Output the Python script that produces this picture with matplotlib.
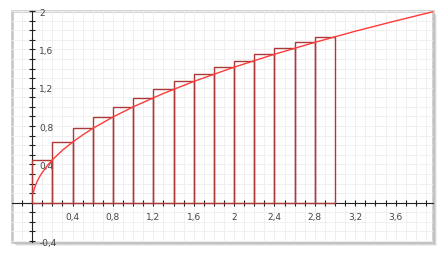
import numpy as np
import matplotlib
matplotlib.use("Agg")
import matplotlib.pyplot as plt
from matplotlib.patches import Rectangle

# right-endpoint rectangles under sqrt(x), width 0.2 from 0 to 3
bar_left = [0.0, 0.2, 0.4, 0.6, 0.8, 1.0, 1.2, 1.4, 1.6, 1.8, 2.0, 2.2, 2.4, 2.6, 2.8]
bar_height = [0.447, 0.632, 0.775, 0.894, 1.0, 1.095, 1.183, 1.265, 1.342,
              1.414, 1.483, 1.549, 1.612, 1.673, 1.732]
bar_width = 0.2

# curve samples (y = sqrt(x))
curve_x = [0.01, 0.02, 0.03, 0.05, 0.07, 0.1, 0.15, 0.2, 0.3, 0.4, 0.5, 0.6, 0.8, 1.0,
           1.3, 1.6, 2.0, 2.4, 2.8, 3.2, 3.6, 4.0]
curve_y = [0.1, 0.141, 0.173, 0.224, 0.265, 0.316, 0.387, 0.447, 0.548, 0.632, 0.707,
           0.775, 0.894, 1.0, 1.14, 1.265, 1.414, 1.549, 1.673, 1.789, 1.897, 2.0]

xticks = [0.4, 0.8, 1.2, 1.6, 2.0, 2.4, 2.8, 3.2, 3.6]
xlabels = ["0,4", "0,8", "1,2", "1,6", "2", "2,4", "2,8", "3,2", "3,6"]
yticks = [-0.4, 0.4, 0.8, 1.2, 1.6, 2.0]
ylabels = ["-0,4", "0,4", "0,8", "1,2", "1,6", "2"]

fig = plt.figure(figsize=(4.44, 2.55), dpi=100)
W, H = 444, 255
x0, y0, x1, y1 = 12, 12, 433, 243
ax = fig.add_axes([x0 / W, 1 - y1 / H, (x1 - x0) / W, (y1 - y0) / H])

# frame with a soft shadow
for off, a in [(4, 0.06), (3, 0.10), (2, 0.16), (1, 0.22)]:
    fig.patches.append(Rectangle(((x0 + off) / W, 1 - (y1 + off) / H), (x1 - x0) / W, (y1 - y0) / H,
                                 transform=fig.transFigure, facecolor="#000000", alpha=a,
                                 edgecolor="none", zorder=-3))
fig.patches.append(Rectangle((x0 / W, 1 - y1 / H), (x1 - x0) / W, (y1 - y0) / H,
                             transform=fig.transFigure, facecolor="white",
                             edgecolor="#c4c4c4", lw=1.8, zorder=-2))
ax.set_facecolor("none")

ax.set_xlim(-0.2, 3.97)
ax.set_ylim(-0.41, 2.0)

ax.set_xticks(np.arange(-0.1, 3.95, 0.1), minor=True)
ax.set_yticks(np.arange(-0.4, 2.0, 0.1), minor=True)
ax.set_xticks(xticks, xlabels)
ax.set_yticks(yticks, ylabels)
ax.grid(True, which="both", color="#efefef", lw=0.7)
ax.set_axisbelow(True)

for s in ["top", "right"]:
    ax.spines[s].set_visible(False)
ax.spines["left"].set_position(("data", 0))
ax.spines["bottom"].set_position(("data", 0))
ax.spines["left"].set_color("#222222")
ax.spines["bottom"].set_color("#222222")

ax.tick_params(which="both", direction="inout", length=4, width=0.8, color="#222222")
ax.tick_params(axis="both", labelsize=6.5, labelcolor="#444444")
ax.tick_params(axis="x", pad=5)
ax.tick_params(axis="y", pad=-7)
for lbl in ax.get_yticklabels():
    lbl.set_horizontalalignment("left")

ax.bar(bar_left, bar_height, width=bar_width, align="edge", facecolor="none",
       edgecolor="#ad3838", lw=1.0, zorder=3)
ax.plot(curve_x, curve_y, color="#ff3a3a", lw=1.0, zorder=4)

fig.savefig("out.png", dpi=100)
